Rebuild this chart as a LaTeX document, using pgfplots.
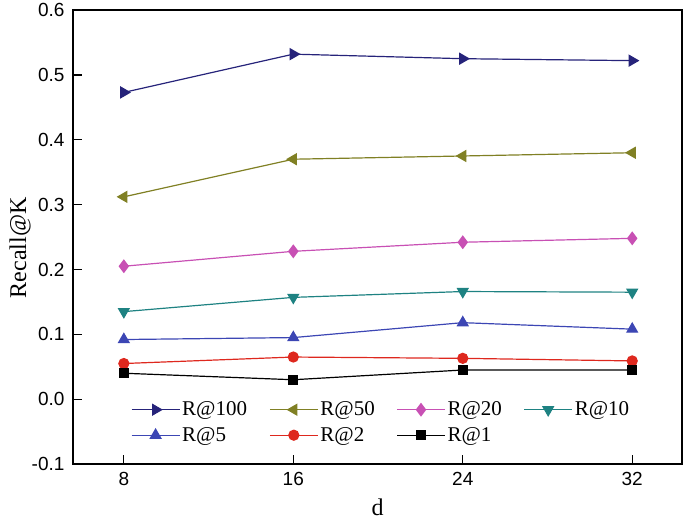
\documentclass[border=0pt]{standalone}
\usepackage{fontspec}
\setmainfont{Liberation Serif}
\newfontfamily\arial{Liberation Sans}
\usepackage{pgfplots}
\pgfplotsset{compat=1.18}
\definecolor{c100}{RGB}{38,35,122}
\definecolor{c50}{RGB}{128,128,36}
\definecolor{c20}{RGB}{200,80,180}
\definecolor{c10}{RGB}{30,130,130}
\definecolor{c5}{RGB}{60,70,180}
\definecolor{c2}{RGB}{222,40,30}
\definecolor{c1}{RGB}{0,0,0}
\newcommand{\la}[1]{\makebox[85pt][l]{#1}}
\newcommand{\lb}[1]{\makebox[74pt][l]{#1}}
\begin{document}
\begin{tikzpicture}
\begin{axis}[
  scale only axis, width=609pt, height=454pt,
  xmin=5.6, xmax=34.35, ymin=-0.1, ymax=0.6,
  xtick={8,16,24,32}, xticklabels={8,16,24,32},
  ytick={-0.1,0,0.1,0.2,0.3,0.4,0.5,0.6},
  yticklabels={-0.1,0.0,0.1,0.2,0.3,0.4,0.5,0.6},
  tick align=inside, xtick pos=bottom, ytick pos=left,
  major tick length=9pt,
  axis line style={line width=1.3pt},
  every tick/.style={black, line width=1.2pt},
  ticklabel style={font=\arial\fontsize{19}{21}\selectfont},
  yticklabel style={xshift=-5pt},
  xticklabel style={yshift=-5pt},
  xlabel={d}, ylabel={Recall@K},
  label style={font=\fontsize{24}{26}\selectfont},
  xlabel style={at={(axis description cs:0.5,-0.095)}, anchor=center},
  ylabel style={at={(axis description cs:-0.087,0.476)}, anchor=center},
  legend columns=4,
  legend cell align=left,
  legend style={at={(axis description cs:0.09,0.146)}, anchor=north west,
    draw=none, fill=none, font=\fontsize{21}{24}\selectfont,
    /tikz/row sep=6pt, /tikz/column sep=0pt},
  legend image code/.code={\draw[mark repeat=2,mark phase=2] plot coordinates {(0pt,0pt)(24pt,0pt)(48pt,0pt)};},
  every axis plot/.append style={line width=1.2pt},
  after end axis/.code={
    \path (rel axis cs:0,0) ++(-73pt,-60pt);
    \path (rel axis cs:1,1) ++(3pt,8pt);
  },
]
\addplot[c100, mark=triangle*, mark size=6pt, mark options={rotate=-90, solid}] coordinates {(8,0.473) (16,0.532) (24,0.525) (32,0.522)};
\addlegendentry{\la{R@100}}
\addplot[c50, mark=triangle*, mark size=6pt, mark options={rotate=90, solid}] coordinates {(8,0.312) (16,0.370) (24,0.375) (32,0.380)};
\addlegendentry{\lb{R@50}}
\addplot[c20, mark=diamond*, mark size=6pt] coordinates {(8,0.205) (16,0.228) (24,0.242) (32,0.248)};
\addlegendentry{\lb{R@20}}
\addplot[c10, mark=triangle*, mark size=6pt, mark options={rotate=180, solid}] coordinates {(8,0.135) (16,0.157) (24,0.166) (32,0.165)};
\addlegendentry{\lb{R@10}}
\addplot[c5, mark=triangle*, mark size=6pt] coordinates {(8,0.092) (16,0.095) (24,0.118) (32,0.108)};
\addlegendentry{\la{R@5}}
\addplot[c2, mark=*, mark size=5pt] coordinates {(8,0.055) (16,0.065) (24,0.063) (32,0.059)};
\addlegendentry{\lb{R@2}}
\addplot[c1, mark=square*, mark size=4.3pt] coordinates {(8,0.040) (16,0.030) (24,0.045) (32,0.045)};
\addlegendentry{\lb{R@1}}
\end{axis}
\end{tikzpicture}
\end{document}
